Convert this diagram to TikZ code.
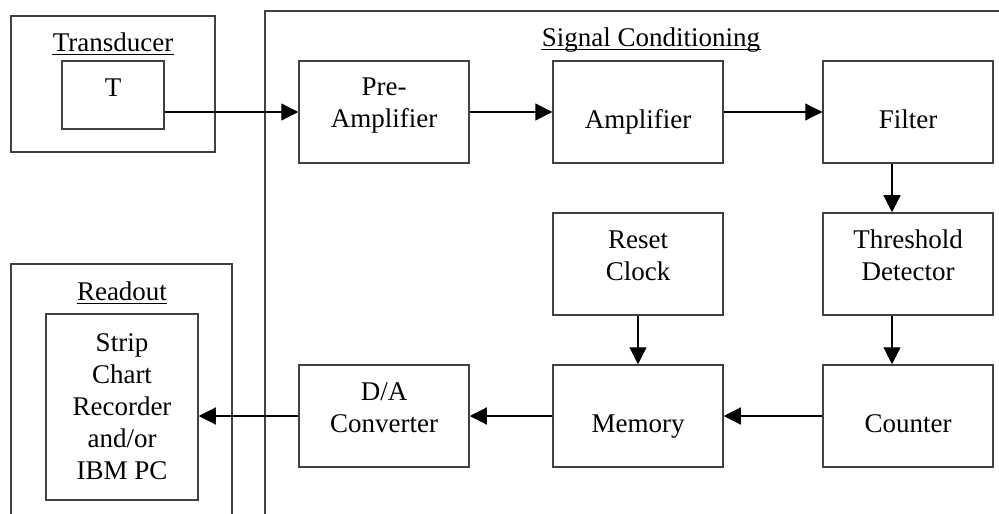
\documentclass[tikz,border=0pt]{standalone}
\usepackage{fontspec}
\setmainfont{Liberation Serif}
\usetikzlibrary{arrows.meta}

\begin{document}
\begin{tikzpicture}[x=0.5pt, y=-0.5pt,
		frame/.style={draw=black!75, line width=0.75pt},
		block/.style={frame, minimum width=85pt, minimum height=51pt, inner sep=0pt, align=center, font=\fontsize{13.5}{16}\selectfont},
		oneline/.style={block, text height=16.5pt, text depth=0pt},
		twoline/.style={block, text height=25pt, text depth=9pt},
		arr/.style={-{Triangle[length=8.5pt, width=8.5pt]}, line width=0.6pt},
		ttl/.style={inner sep=0pt, anchor=base, font=\fontsize{13.5}{16}\selectfont}]
			\clip (0,0) rectangle (999,513);
			% outer frames
			\draw[frame] (11,16) rectangle (215,152);
			\draw[frame] (265,11) rectangle (1020,540);
			\draw[frame] (11,264) rectangle (232,540);
			% titles
			\node[ttl] (trtitle) at (113,52) {Transducer};
			\node[ttl] (sigtitle) at (651,47) {Signal Conditioning};
			\node[ttl] (rotitle) at (122,300) {Readout};
			\foreach \t in {trtitle, sigtitle, rotitle}
				\draw[line width=0.5pt] ([yshift=-1.5pt]\t.base west) -- ([yshift=-1.5pt]\t.base east);
			% blocks
			\node[block, minimum width=51pt, minimum height=34pt, text height=9pt, text depth=7pt] (tbox) at (113,95) {T};
			\node[twoline] (preamp) at (384,112) {Pre-\\Amplifier};
			\node[oneline] (amp) at (638,112) {Amplifier};
			\node[oneline] (filter) at (908,112) {Filter};
			\node[twoline] (reset) at (638,264) {Reset\\Clock};
			\node[twoline] (thresh) at (908,264) {Threshold\\Detector};
			\node[twoline] (dac) at (384,416) {D/A\\Converter};
			\node[oneline] (memory) at (638,416) {Memory};
			\node[oneline] (counter) at (908,416) {Counter};
			\node[block, minimum width=76pt, minimum height=93pt] (strip) at (122,407) {Strip\\Chart\\Recorder\\and/or\\IBM PC};
			% signal path
			\draw[arr] (preamp.west -| tbox.east) -- (preamp.west);
			\draw[arr] (preamp) -- (amp);
			\draw[arr] (amp) -- (filter);
			\draw[arr] ([xshift=-8pt]filter.south) -- ([xshift=-8pt]thresh.north);
			\draw[arr] ([xshift=-8pt]thresh.south) -- ([xshift=-8pt]counter.north);
			\draw[arr] (reset) -- (memory);
			\draw[arr] (counter) -- (memory);
			\draw[arr] (memory) -- (dac);
			\draw[arr] (dac.west) -- (dac.west -| strip.east);
		\end{tikzpicture}
\end{document}
